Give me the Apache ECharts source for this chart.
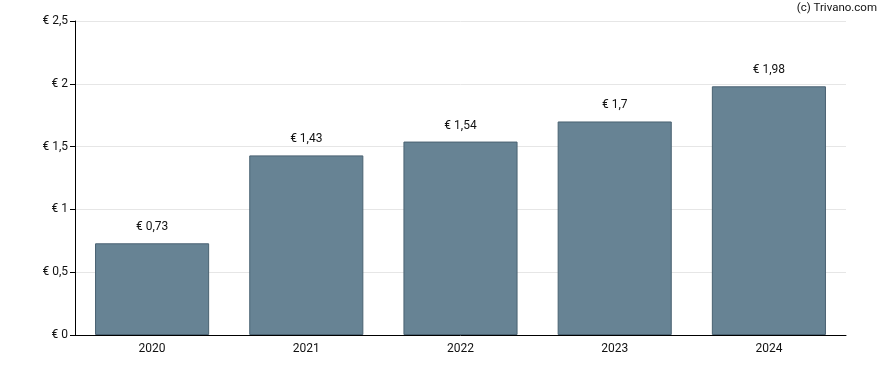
<!DOCTYPE html>
<html><head><meta charset="utf-8">
<script src="https://cdn.jsdelivr.net/npm/echarts@6/dist/echarts.min.js"></script>
<style>html,body{margin:0;padding:0;background:#fff}#c{width:888px;height:370px}</style>
</head><body><div id="c"></div>
<script>
const categories = ['2020', '2021', '2022', '2023', '2024'];
const values = [0.73, 1.43, 1.54, 1.7, 1.98];
const yTicks = [0, 0.5, 1, 1.5, 2, 2.5];

const fmt = v => '€ ' + String(v).replace('.', ',');
const chart = echarts.init(document.getElementById('c'));
chart.setOption({
  animation: false,
  textStyle: { fontFamily: 'Roboto, Arial, sans-serif' },
  graphic: [{ type: 'text', right: 11, top: 2, style: { text: '(c) Trivano.com', font: '11.5px Roboto, Arial, sans-serif', fill: '#111' } }],
  grid: { left: 75, right: 42, top: 21, bottom: 35, containLabel: false },
  xAxis: {
    type: 'category', data: categories, boundaryGap: true,
    axisLine: { lineStyle: { color: '#000', width: 1 } },
    axisTick: { alignWithLabel: true, length: 5, lineStyle: { color: '#000' } },
    axisLabel: { color: '#111', fontSize: 12, margin: 8 },
    splitLine: { show: false }
  },
  yAxis: {
    type: 'value', min: 0, max: 2.5, interval: 0.5,
    axisLine: { show: true, lineStyle: { color: '#000', width: 1 } },
    axisTick: { show: true, length: 5, lineStyle: { color: '#000' } },
    axisLabel: { color: '#111', fontSize: 12, margin: 7, formatter: v => fmt(v) },
    splitLine: { show: true, lineStyle: { color: '#e6e6e6', width: 1 } }
  },
  series: [{
    type: 'bar', data: values, barWidth: '74%',
    itemStyle: { color: '#678394', borderColor: '#4a6272', borderWidth: 1 },
    label: { show: true, position: 'top', distance: 10, color: '#111', fontSize: 12, formatter: p => fmt(p.value) }
  }]
});
</script></body></html>
